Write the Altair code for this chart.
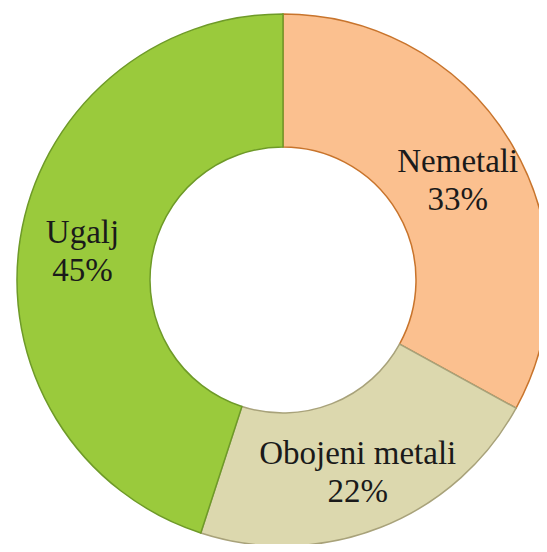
import altair as alt
import pandas as pd

categories = ["Nemetali", "Obojeni metali", "Ugalj"]
values = [33, 22, 45]
fills = ["#FBC08F", "#DCD8AE", "#9ACA3C"]
edges = ["#C8742C", "#A8A27A", "#6E9A28"]

df = pd.DataFrame({"cat": categories, "val": values, "order": [0, 1, 2]})
df["label"] = df["cat"] + "\n" + df["val"].astype(str) + "%"

base = alt.Chart(df).encode(
    theta=alt.Theta("val:Q", stack=True),
    order=alt.Order("order:Q"),
)

arcs = base.mark_arc(outerRadius=266, innerRadius=133, strokeWidth=1.5).encode(
    x=alt.value(275),
    y=alt.value(272),
    color=alt.Color("cat:N", scale=alt.Scale(domain=categories, range=fills), legend=None),
    stroke=alt.Stroke("cat:N", scale=alt.Scale(domain=categories, range=edges), legend=None),
)

texts = base.mark_text(
    radius=203, font="Liberation Serif", fontSize=33,
    lineBreak="\n", lineHeight=38, color="#1a1a1a", baseline="middle", align="center", dy=-15,
).encode(
    x=alt.value(275),
    y=alt.value(272),
    text="label:N",
)

chart = alt.layer(arcs, texts).properties(
    width=531, height=536, autosize=alt.AutoSizeParams(type="none"), padding=0
).configure_view(stroke=None)

chart.save("out.html", embed_options={"renderer": "svg", "actions": False})
